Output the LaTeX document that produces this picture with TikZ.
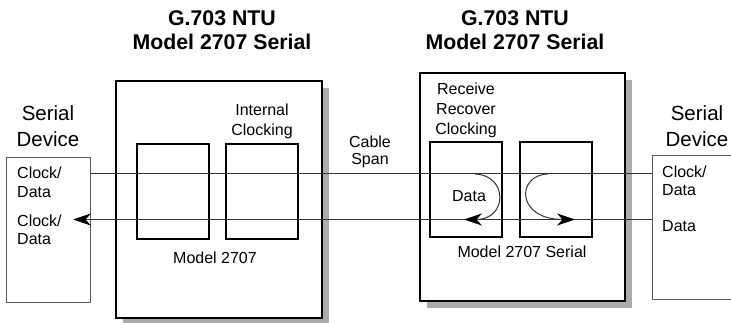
\documentclass[tikz,border=0pt]{standalone}
\usepackage{fontspec}
\setmainfont{Liberation Sans}
\usetikzlibrary{arrows.meta}
\begin{document}
\begin{tikzpicture}[x=1pt,y=-1pt,
  shadowbox/.style={fill=black!33,draw=none},
  bigbox/.style={draw=black,line width=2.4pt,fill=white,inner sep=0pt,outer sep=0pt},
  innerbox/.style={draw=black,line width=2pt,inner sep=0pt,outer sep=0pt},
  devbox/.style={draw=black!65,line width=0.9pt,inner sep=0pt,outer sep=0pt},
  wire/.style={draw=black!80,line width=1pt},
  dartend/.style={-{Stealth[length=18pt,width=12pt,inset=5.5pt,black]}},
  lbl/.style={font=\fontsize{16}{19}\selectfont,inner sep=0pt,anchor=base},
  lbll/.style={lbl,anchor=base west},
  devlbl/.style={font=\fontsize{20.5}{26}\selectfont,inner sep=0pt,anchor=base},
  title/.style={font=\fontsize{21.3}{24}\selectfont\bfseries,inner sep=0pt,anchor=base}
]
\useasboundingbox (0,0) rectangle (731,323);

% titles
\node[title] (t1a) at (222,26) {G.703 NTU};
\node[title] (t1b) at (222,50) {Model 2707 Serial};
\node[title] (t2a) at (515,26) {G.703 NTU};
\node[title] (t2b) at (515,50) {Model 2707 Serial};

% shadows and main boxes
\fill[shadowbox] (123,88) rectangle (329,325);
\fill[shadowbox] (427,80) rectangle (632,308);
\node[bigbox,minimum width=206pt,minimum height=237pt] (ntu1) at (219,199.5) {};
\node[bigbox,minimum width=205pt,minimum height=228pt] (ntu2) at (522.5,187) {};

% inner boxes
\node[innerbox,minimum width=72pt,minimum height=95pt] (b1) at (173,191.5) {};
\node[innerbox,minimum width=72pt,minimum height=95pt] (b2) at (262,191.5) {};
\node[innerbox,minimum width=72pt,minimum height=95pt] (b3) at (466,189.5) {};
\node[innerbox,minimum width=72pt,minimum height=95pt] (b4) at (556,189.5) {};

% serial devices
\node[devbox,minimum width=84pt,minimum height=145pt] (ldev) at (48,229.5) {};
\coordinate (rdtl) at (740,155);
\coordinate (rdl1) at (652,155);
\coordinate (rdl2) at (652,299);
\coordinate (rdbl) at (740,299);
\draw[devbox] (rdtl) -- (rdl1) -- (rdl2) -- (rdbl);

% labels
\node[devlbl] (ls1) at (48,121) {Serial};
\node[devlbl] (ls2) at (48,147) {Device};
\node[devlbl] (rs1) at (697,121) {Serial};
\node[devlbl] (rs2) at (697,147) {Device};

\node[lbll] (lc1) at (17,179) {Clock/};
\node[lbll] (ld1) at (17,198) {Data};
\node[lbll] (lc2) at (17,226) {Clock/};
\node[lbll] (ld2) at (17,245) {Data};

\node[lbll] (rc1) at (662,178) {Clock/};
\node[lbll] (rd1) at (662,196) {Data};
\node[lbll] (rd2) at (662,232) {Data};

\node[lbl] (ic1) at (262,116) {Internal};
\node[lbl] (ic2) at (262,136) {Clocking};
\node[lbl] (rr1) at (466,95) {Receive};
\node[lbl] (rr2) at (466,115) {Recover};
\node[lbl] (rr3) at (466,135) {Clocking};
\node[lbl] (cs1) at (370,148) {Cable};
\node[lbl] (cs2) at (370,165) {Span};
\node[lbl] (dt) at (469,202) {Data};
\node[lbl] (m1) at (215,263) {Model 2707};
\node[lbl] (m2) at (522,258) {Model 2707 Serial};

% connectors
\coordinate (la) at (90,174);
\coordinate (ra) at (652,174);
\coordinate (lb) at (73,219.5);
\coordinate (rb) at (652,219.5);
\draw[wire] (la) -- (ra);
\draw[wire,dartend] (rb) -- (lb);

\coordinate (c3s) at (475,174);
\coordinate (c3e) at (464,219.5);
\coordinate (c4s) at (548,174);
\coordinate (c4e) at (575,219.5);
\draw[wire,dartend] (c3s) .. controls (508,175) and (508,219.5) .. (c3e);
\draw[wire,dartend] (c4s) .. controls (516,175) and (516,219.5) .. (c4e);
\end{tikzpicture}
\end{document}
